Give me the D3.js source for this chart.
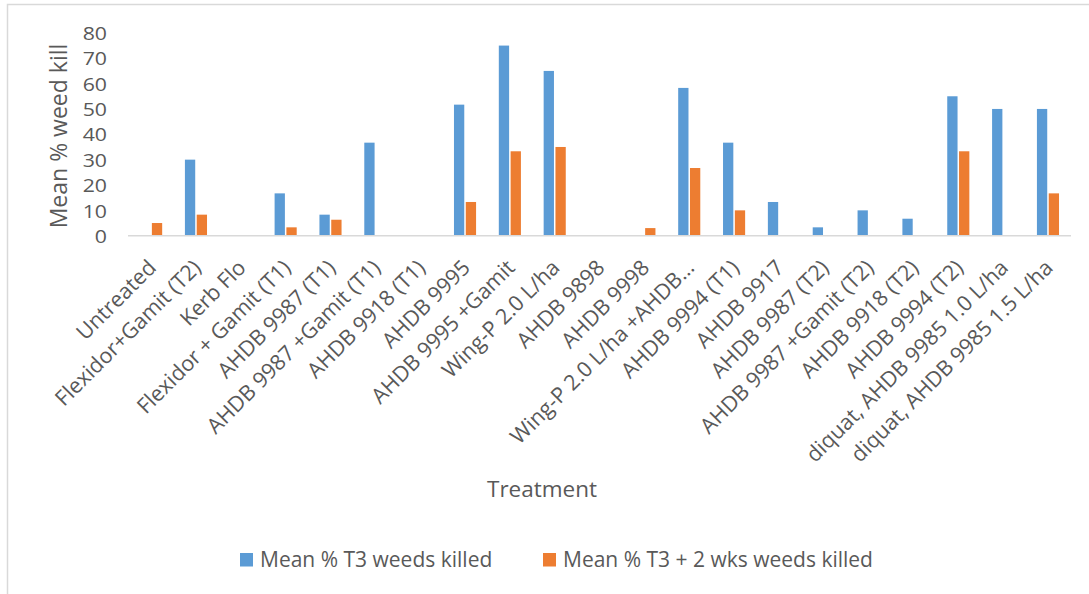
<!DOCTYPE html>
<html>
<head>
<meta charset="utf-8">
<script src="https://cdn.jsdelivr.net/npm/d3@7"></script>
<style>
  html, body { margin: 0; padding: 0; background: #fff; }
  svg { display: block; }
  text { font-family: "Open Sans", "DejaVu Sans", sans-serif; fill: #595959; }
</style>
</head>
<body>
<svg id="chart" width="1089" height="594"></svg>
<script>
// Treatments along the x axis
const treatments = [
  "Untreated", "Flexidor+Gamit (T2)", "Kerb Flo", "Flexidor + Gamit (T1)",
  "AHDB 9987 (T1)", "AHDB 9987 +Gamit (T1)", "AHDB 9918 (T1)", "AHDB 9995",
  "AHDB 9995 +Gamit", "Wing-P 2.0 L/ha", "AHDB 9898", "AHDB 9998",
  "Wing-P 2.0 L/ha +AHDB…", "AHDB 9994 (T1)", "AHDB 9917", "AHDB 9987 (T2)",
  "AHDB 9987 +Gamit (T2)", "AHDB 9918 (T2)", "AHDB 9994 (T2)",
  "diquat, AHDB 9985 1.0 L/ha", "diquat, AHDB 9985 1.5 L/ha"
];
// Mean % weed kill at T3
const killedT3 = [0, 30, 0, 16.7, 8.3, 36.7, 0, 51.7, 75, 65, 0, 0, 58.3, 36.7, 13.3, 3.3, 10, 6.7, 55, 50, 50];
// Mean % weed kill two weeks after T3
const killedT3plus2 = [5, 8.3, 0, 3.3, 6.3, 0, 0, 13.3, 33.3, 35, 0, 3, 26.7, 10, 0, 0, 0, 0, 33.3, 0, 16.7];
const seriesNames = ["Mean % T3 weeds killed", "Mean % T3 + 2 wks weeds killed"];
const seriesColors = ["#5B9BD5", "#ED7D31"];
const yTicks = [0, 10, 20, 30, 40, 50, 60, 70, 80];

const svg = d3.select("#chart");

// outer chart frame
svg.append("rect")
  .attr("x", 7.5).attr("y", 4.5)
  .attr("width", 1200).attr("height", 700)
  .attr("fill", "none").attr("stroke", "#d9d9d9").attr("stroke-width", 1.5);

const x = d3.scaleBand().domain(treatments).range([128.7, 1070.4]);
const y = d3.scaleLinear().domain([0, 80]).range([235.7, 32.9]);

const barW = 10.3, barGap = 1.5;

const series = [killedT3, killedT3plus2];
series.forEach((vals, si) => {
  svg.append("g").selectAll("rect")
    .data(vals.map((v, i) => ({ t: treatments[i], v })).filter(d => d.v > 0))
    .join("rect")
    .attr("x", d => x(d.t) + x.bandwidth() / 2 + (si === 0 ? -barW - barGap / 2 : barGap / 2))
    .attr("y", d => y(d.v))
    .attr("width", barW)
    .attr("height", d => y(0) - y(d.v))
    .attr("fill", seriesColors[si]);
});

// category axis line
svg.append("line")
  .attr("x1", 128).attr("x2", 1071)
  .attr("y1", y(0)).attr("y2", y(0))
  .attr("stroke", "#d9d9d9").attr("stroke-width", 1.5);

// value axis labels (tall, slightly widened digits)
const yAxis = d3.axisLeft(y).tickValues(yTicks).tickSize(0).tickPadding(0);
const yg = svg.append("g").attr("transform", "translate(107,0)").call(yAxis);
yg.select(".domain").remove();
yg.selectAll("text")
  .style("font-family", "'Open Sans', sans-serif")
  .style("font-size", "18.5px").attr("fill", "#595959")
  .attr("x", 0).attr("dy", "0.36em")
  .attr("transform", "scale(1.15,1)");

// category labels, rotated
const xAxis = d3.axisBottom(x).tickSize(0).tickPadding(0);
const xg = svg.append("g").attr("transform", `translate(0,${y(0)})`).call(xAxis);
xg.select(".domain").remove();
xg.selectAll(".tick text")
  .style("font-family", "'Open Sans', sans-serif")
  .style("font-size", "21.5px").attr("fill", "#595959")
  .attr("text-anchor", "end")
  .attr("y", 0)
  .attr("transform", "translate(1,28) rotate(-45)")
  .attr("dy", "0.35em");

// axis titles
svg.append("text")
  .attr("transform", "translate(67,136) rotate(-90)")
  .attr("text-anchor", "middle")
  .style("font-size", "23px")
  .text("Mean % weed kill");

svg.append("text")
  .attr("x", 542).attr("y", 497)
  .attr("text-anchor", "middle")
  .style("font-size", "22.5px")
  .text("Treatment");

// legend
const legendX = [240, 543];
seriesNames.forEach((name, i) => {
  svg.append("rect")
    .attr("x", legendX[i]).attr("y", 553)
    .attr("width", 13).attr("height", 13.5)
    .attr("fill", seriesColors[i]);
  svg.append("text")
    .attr("x", legendX[i] + 20).attr("y", 567)
    .style("font-size", "21px")
    .text(name);
});
</script>
</body>
</html>
